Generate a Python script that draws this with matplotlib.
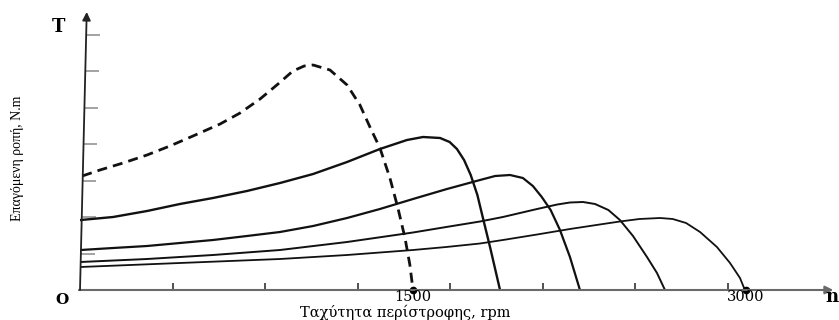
import matplotlib.pyplot as plt
import numpy as np

# speed (rpm) / induced torque (arbitrary units)
dash_n = [10, 90, 194, 302, 405, 509, 631, 721, 811, 892, 959, 1010, 1050, 1126,
          1203, 1261, 1306, 1351, 1396, 1432, 1464, 1486, 1500]
dash_t = [114, 120, 127, 135, 144, 154, 166, 177, 191, 206, 219, 224, 225, 220,
          205, 185, 163, 142, 112, 82, 52, 25, 0]

c1_n = [4, 149, 302, 450, 599, 752, 901, 1050, 1203, 1351, 1473, 1545, 1622,
        1665, 1698, 1730, 1760, 1790, 1815, 1847, 1892]
c1_t = [70, 73, 79, 86, 92, 99, 107, 116, 128, 141, 150, 153, 152,
        148, 141, 130, 115, 95, 72, 43, 0]

c2_n = [3, 149, 302, 450, 599, 752, 901, 1050, 1203, 1351, 1500, 1653, 1802,
        1870, 1937, 1995, 2040, 2080, 2120, 2162, 2207, 2252]
c2_t = [40, 42, 44, 47, 50, 54, 58, 64, 72, 81, 91, 101, 110,
        114, 115, 112, 104, 93, 80, 60, 33, 0]

c3_n = [2, 302, 599, 901, 1203, 1500, 1650, 1802, 1905, 2059, 2150, 2207, 2266,
        2320, 2380, 2432, 2491, 2554, 2599, 2635]
c3_t = [28, 31, 35, 40, 48, 57.5, 63, 68.5, 73, 81, 85.5, 87.5, 88,
        86, 80, 70, 54, 33, 17, 0]

c4_n = [2, 450, 901, 1203, 1500, 1650, 1802, 1905, 2059, 2207, 2356, 2432, 2520,
        2613, 2670, 2730, 2793, 2869, 2928, 2973, 2995]
c4_t = [23, 27, 31, 35, 40, 43, 46.5, 50, 55.5, 61, 66, 68.5, 71,
        72, 71, 67, 58, 43, 27, 12, 0]

xticks = [417 * k for k in range(1, 8)]
yticks = [36.5 * k for k in range(1, 8)]
marked = [1500, 3000]

W, H = 839, 320
fig = plt.figure(figsize=(W / 100, H / 100), dpi=100)
ax = fig.add_axes([80 / W, 30 / H, 750 / W, 275 / H])
xmax = 750 * 1500 / 333
ax.set_xlim(0, xmax)
ax.set_ylim(0, 275)
ax.set_axis_off()

# the T axis leans slightly to the right
lean = 30 / 275


def axis_x(t):
    return lean * np.asarray(t)


# x axis with arrow
ax.annotate('', xy=(xmax + 15, 0), xytext=(-5, 0),
            arrowprops=dict(arrowstyle='-|>', color='#6a6a6a', lw=1.5,
                            mutation_scale=12, shrinkA=0, shrinkB=0),
            annotation_clip=False)
# y axis with arrow
ax.annotate('', xy=(axis_x(278), 278), xytext=(0, 0),
            arrowprops=dict(arrowstyle='-|>', color='#222222', lw=1.3,
                            mutation_scale=12, shrinkA=0, shrinkB=0),
            annotation_clip=False)

# tick marks
ax.vlines(xticks, 0, 7, color='#333333', lw=1.2)
ax.hlines(yticks, axis_x(yticks), axis_x(yticks) + 62, color='#8a8a8a', lw=1.1)

ax.plot(dash_n, dash_t, color='#111111', lw=2.0, ls=(0, (3.6, 2.2)))
ax.plot(c1_n, c1_t, color='#111111', lw=1.7)
ax.plot(c2_n, c2_t, color='#111111', lw=1.6)
ax.plot(c3_n, c3_t, color='#111111', lw=1.4)
ax.plot(c4_n, c4_t, color='#111111', lw=1.3)
ax.plot(marked, [0, 0], 'o', color='black', ms=4.5, clip_on=False)

serif = 'DejaVu Serif'
for v in marked:
    fig.text((80 + v * 333 / 1500) / W, 1 - 297 / H, str(v), ha='center',
             va='center', fontsize=10.5, family=serif)
fig.text(62 / W, 1 - 300 / H, 'O', ha='center', va='center', fontsize=11,
         family=serif, weight='bold')
fig.text(58 / W, 1 - 27 / H, 'T', ha='center', va='center', fontsize=13,
         family=serif, weight='bold')
fig.text(832 / W, 1 - 297 / H, 'n', ha='center', va='center', fontsize=13,
         family=serif, weight='bold')
fig.text(405 / W, 1 - 312 / H, 'Ταχύτητα περίστροφης, rpm', ha='center',
         va='center', fontsize=10.5, family=serif)
fig.text(18 / W, 1 - 158 / H, 'Επαγόμενη ροπή, N.m', ha='center', va='center',
         rotation=90, fontsize=10, family='Liberation Serif')

fig.savefig('out.png', dpi=100)
